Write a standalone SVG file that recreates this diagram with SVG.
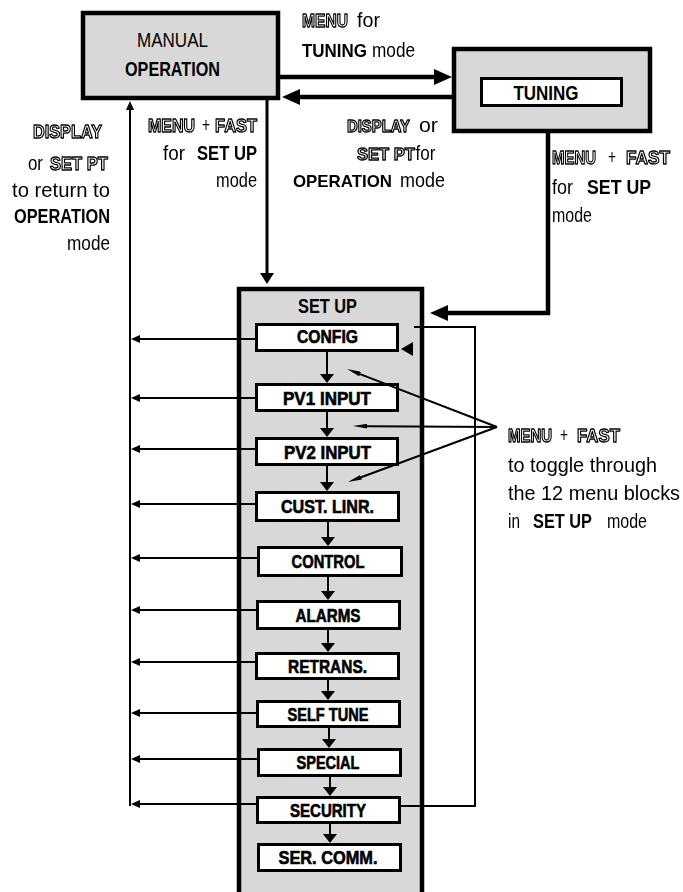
<svg xmlns="http://www.w3.org/2000/svg" width="683" height="892" viewBox="0 0 683 892">
<style>
text{font-family:"Liberation Sans",Arial,sans-serif;fill:#000}
.r{font-size:21px}
.b{font-size:21px;font-weight:bold}
.o{font-size:18.5px;font-weight:bold;fill:#fff;stroke:#000;stroke-width:1.3px;stroke-linejoin:round}
.n{font-size:18px;font-weight:bold;stroke:#000;stroke-width:0.6px;text-anchor:middle}
.t{font-size:21px;font-weight:bold;text-anchor:middle}
.box{fill:#d8d8d8;stroke:#000;stroke-width:4.5}
.node{fill:#fff;stroke:#000;stroke-width:3}
.thick{fill:none;stroke:#000;stroke-width:4.5}
.med{fill:none;stroke:#000;stroke-width:3}
.thin{fill:none;stroke:#000;stroke-width:2}
</style>
<defs>
<filter id="gray" x="0" y="0" width="683" height="892" filterUnits="userSpaceOnUse"><feColorMatrix type="saturate" values="0"/></filter>
<marker id="ah-big" viewBox="0 -8 18 16" markerWidth="18" markerHeight="16" refX="0" refY="0" orient="auto" markerUnits="userSpaceOnUse"><path d="M0,-8 L18,0 L0,8 z" fill="#000"/></marker>
<marker id="ah-med" viewBox="0 -7 11 14" markerWidth="11" markerHeight="14" refX="0" refY="0" orient="auto" markerUnits="userSpaceOnUse"><path d="M0,-7 L11,0 L0,7 z" fill="#000"/></marker>
<marker id="ah-node" viewBox="0 -7 9 14" markerWidth="9" markerHeight="14" refX="0" refY="0" orient="auto" markerUnits="userSpaceOnUse"><path d="M0,-7 L9,0 L0,7 z" fill="#000"/></marker>
<marker id="ah-sm" viewBox="0 -4 9 8" markerWidth="9" markerHeight="8" refX="0" refY="0" orient="auto" markerUnits="userSpaceOnUse"><path d="M0,-4 L9,0 L0,4 z" fill="#000"/></marker>
<marker id="ah-thin" viewBox="0 -2.4 14 4.8" markerWidth="14" markerHeight="4.8" refX="0" refY="0" orient="auto" markerUnits="userSpaceOnUse"><path d="M0,-2.4 L14,0 L0,2.4 z" fill="#000"/></marker>
</defs>
<rect width="683" height="892" fill="#fff"/>

<g id="manual">
<rect class="box" x="83" y="13" width="195" height="85"/>
<text class="r" x="137" y="47" textLength="71" lengthAdjust="spacingAndGlyphs">MANUAL</text>
<text class="b" x="125" y="76" textLength="95" lengthAdjust="spacingAndGlyphs">OPERATION</text>
</g>

<g id="tuning">
<rect class="box" x="454" y="49" width="196" height="82"/>
<rect class="node" x="481.5" y="78.5" width="140" height="27"/>
<text class="t" x="546" y="100" textLength="65" lengthAdjust="spacingAndGlyphs">TUNING</text>
</g>

<g id="setup">
<rect class="box" x="239" y="289" width="183" height="640"/>
<text class="t" x="327.5" y="313" textLength="59" lengthAdjust="spacingAndGlyphs">SET UP</text>
</g>

<g id="node-config"><rect class="node" x="256.5" y="324.5" width="141" height="26"/><text class="n" x="327.5" y="343" textLength="61" lengthAdjust="spacingAndGlyphs">CONFIG</text></g>
<g id="node-pv1"><rect class="node" x="256.5" y="384.5" width="141" height="26"/><text class="n" x="327" y="405" textLength="88" lengthAdjust="spacingAndGlyphs">PV1 INPUT</text></g>
<g id="node-pv2"><rect class="node" x="256.5" y="438.5" width="141" height="26"/><text class="n" x="327.5" y="459" textLength="87" lengthAdjust="spacingAndGlyphs">PV2 INPUT</text></g>
<g id="node-custlinr"><rect class="node" x="256.5" y="492.5" width="142" height="28"/><text class="n" x="327.5" y="513" textLength="93" lengthAdjust="spacingAndGlyphs">CUST. LINR.</text></g>
<g id="node-control"><rect class="node" x="258.5" y="547.5" width="143" height="28"/><text class="n" x="328" y="568" textLength="73" lengthAdjust="spacingAndGlyphs">CONTROL</text></g>
<g id="node-alarms"><rect class="node" x="257.5" y="601.5" width="142" height="27"/><text class="n" x="328" y="622" textLength="65" lengthAdjust="spacingAndGlyphs">ALARMS</text></g>
<g id="node-retrans"><rect class="node" x="256.5" y="653.5" width="142" height="25"/><text class="n" x="327.5" y="673" textLength="79" lengthAdjust="spacingAndGlyphs">RETRANS.</text></g>
<g id="node-selftune"><rect class="node" x="257.5" y="701.5" width="142" height="25"/><text class="n" x="328" y="721" textLength="81" lengthAdjust="spacingAndGlyphs">SELF TUNE</text></g>
<g id="node-special"><rect class="node" x="258.5" y="749.5" width="142" height="26"/><text class="n" x="328" y="769" textLength="63" lengthAdjust="spacingAndGlyphs">SPECIAL</text></g>
<g id="node-security"><rect class="node" x="257.5" y="797.5" width="142" height="25"/><text class="n" x="328" y="817" textLength="76" lengthAdjust="spacingAndGlyphs">SECURITY</text></g>
<g id="node-sercomm"><rect class="node" x="258.5" y="844.5" width="142" height="26"/><text class="n" x="328" y="864" textLength="99" lengthAdjust="spacingAndGlyphs">SER. COMM.</text></g>

<g id="connectors">
<path class="thick" d="M280,77 H434" marker-end="url(#ah-big)"/>
<path class="thick" d="M452,97 H300" marker-end="url(#ah-big)"/>
<path class="thick" d="M548,131 V313 H448" marker-end="url(#ah-big)"/>
<path class="med" d="M267,100 V273" marker-end="url(#ah-med)"/>
<path class="thin" d="M130,806 V110" marker-end="url(#ah-sm)"/>
<path class="thin" d="M255,339 H140" marker-end="url(#ah-sm)"/>
<path class="thin" d="M255,398 H140" marker-end="url(#ah-sm)"/>
<path class="thin" d="M255,449 H140" marker-end="url(#ah-sm)"/>
<path class="thin" d="M255,504 H140" marker-end="url(#ah-sm)"/>
<path class="thin" d="M257,558 H140" marker-end="url(#ah-sm)"/>
<path class="thin" d="M256,610 H140" marker-end="url(#ah-sm)"/>
<path class="thin" d="M255,662 H140" marker-end="url(#ah-sm)"/>
<path class="thin" d="M256,713 H140" marker-end="url(#ah-sm)"/>
<path class="thin" d="M257,759 H140" marker-end="url(#ah-sm)"/>
<path class="thin" d="M256,804 H140" marker-end="url(#ah-sm)"/>
<path class="thin" d="M327,352 V374" marker-end="url(#ah-node)"/>
<path class="thin" d="M327,412 V428" marker-end="url(#ah-node)"/>
<path class="thin" d="M327,466 V482" marker-end="url(#ah-node)"/>
<path class="thin" d="M328,522 V537" marker-end="url(#ah-node)"/>
<path class="thin" d="M328,577 V591" marker-end="url(#ah-node)"/>
<path class="thin" d="M328,630 V643" marker-end="url(#ah-node)"/>
<path class="thin" d="M328,680 V691" marker-end="url(#ah-node)"/>
<path class="thin" d="M329,728 V739" marker-end="url(#ah-node)"/>
<path class="thin" d="M330,777 V787" marker-end="url(#ah-node)"/>
<path class="thin" d="M330,824 V834" marker-end="url(#ah-node)"/>
<path class="thin" d="M401,806 H475 V327 H414"/>
<path d="M401,349 L413,342 L413,356 z" fill="#000"/>
<path class="thin" d="M497,427 L360.1,374.1" marker-end="url(#ah-thin)"/>
<path class="thin" d="M497,427 L367,426.2" marker-end="url(#ah-thin)"/>
<path class="thin" d="M497,427 L361.1,477.2" marker-end="url(#ah-thin)"/>
</g>

<g id="labels" filter="url(#gray)">
<text class="r" y="27"><tspan class="o" x="302" textLength="46" lengthAdjust="spacingAndGlyphs">MENU</tspan><tspan x="357" textLength="23" lengthAdjust="spacingAndGlyphs">for</tspan></text>
<text class="r" y="57"><tspan class="b" x="302" style="font-size:18px" textLength="65" lengthAdjust="spacingAndGlyphs">TUNING</tspan><tspan x="372" textLength="43" lengthAdjust="spacingAndGlyphs">mode</tspan></text>

<text class="r" y="132"><tspan class="o" x="148" style="font-size:18px" textLength="47" lengthAdjust="spacingAndGlyphs">MENU</tspan><tspan x="202" textLength="8" lengthAdjust="spacingAndGlyphs">+</tspan><tspan class="o" x="215" textLength="42" lengthAdjust="spacingAndGlyphs">FAST</tspan></text>
<text class="r" y="160"><tspan x="163" textLength="22" lengthAdjust="spacingAndGlyphs">for</tspan><tspan class="b" x="197" textLength="60" lengthAdjust="spacingAndGlyphs">SET UP</tspan></text>
<text class="r" x="216" y="187" textLength="41" lengthAdjust="spacingAndGlyphs">mode</text>

<text class="r" y="132"><tspan class="o" x="347" style="font-size:16.5px" textLength="63" lengthAdjust="spacingAndGlyphs">DISPLAY</tspan><tspan x="419" textLength="19" lengthAdjust="spacingAndGlyphs">or</tspan></text>
<text class="r" y="160"><tspan class="o" x="357" style="font-size:16.5px" textLength="58" lengthAdjust="spacingAndGlyphs">SET PT</tspan><tspan x="415.5" textLength="20" lengthAdjust="spacingAndGlyphs">for</tspan></text>
<text class="r" y="187"><tspan class="b" x="293" style="font-size:17px" textLength="99" lengthAdjust="spacingAndGlyphs">OPERATION</tspan><tspan x="400" textLength="45" lengthAdjust="spacingAndGlyphs">mode</tspan></text>

<text class="o" x="33" y="138" textLength="69" lengthAdjust="spacingAndGlyphs">DISPLAY</text>
<text class="r" y="170"><tspan x="28" textLength="15" lengthAdjust="spacingAndGlyphs">or</tspan><tspan class="o" x="50" textLength="58" lengthAdjust="spacingAndGlyphs">SET PT</tspan></text>
<text class="r" x="12" y="197" textLength="98" lengthAdjust="spacingAndGlyphs">to return to</text>
<text class="b" x="14" y="223" textLength="96" lengthAdjust="spacingAndGlyphs">OPERATION</text>
<text class="r" x="67" y="250" textLength="43" lengthAdjust="spacingAndGlyphs">mode</text>

<text class="r" y="164"><tspan class="o" x="552" textLength="44" lengthAdjust="spacingAndGlyphs">MENU</tspan><tspan x="608" textLength="8" lengthAdjust="spacingAndGlyphs">+</tspan><tspan class="o" x="626" textLength="44" lengthAdjust="spacingAndGlyphs">FAST</tspan></text>
<text class="r" y="194"><tspan x="552" textLength="21" lengthAdjust="spacingAndGlyphs">for</tspan><tspan class="b" x="587" textLength="64" lengthAdjust="spacingAndGlyphs">SET UP</tspan></text>
<text class="r" x="552" y="222" textLength="40" lengthAdjust="spacingAndGlyphs">mode</text>

<text class="r" y="442"><tspan class="o" x="508" style="font-size:17.5px" textLength="44" lengthAdjust="spacingAndGlyphs">MENU</tspan><tspan x="560" textLength="8" lengthAdjust="spacingAndGlyphs">+</tspan><tspan class="o" x="577" textLength="43" lengthAdjust="spacingAndGlyphs">FAST</tspan></text>
<text class="r" x="508" y="472" textLength="149" lengthAdjust="spacingAndGlyphs">to toggle through</text>
<text class="r" x="508" y="500" style="font-size:19.5px" textLength="172" lengthAdjust="spacingAndGlyphs">the 12 menu blocks</text>
<text class="r" y="528"><tspan x="508" textLength="12" lengthAdjust="spacingAndGlyphs">in</tspan><tspan class="b" x="533" style="font-size:20px" textLength="59" lengthAdjust="spacingAndGlyphs">SET UP</tspan><tspan x="607" textLength="40" lengthAdjust="spacingAndGlyphs">mode</tspan></text>
</g>
</svg>
